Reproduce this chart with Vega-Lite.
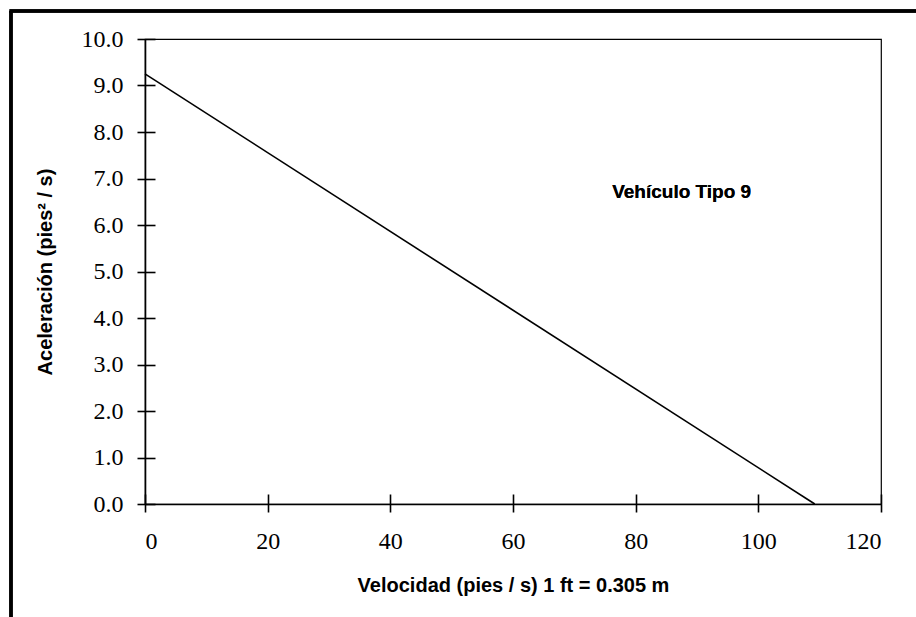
{
  "$schema": "https://vega.github.io/schema/vega-lite/v6.json",
  "autosize": {"type": "none"},
  "width": 736,
  "height": 465,
  "padding": {"left": 145, "top": 39, "right": 35, "bottom": 113},
  "background": "white",
  "config": {
    "view": {"stroke": "black", "strokeWidth": 1.2},
    "axis": {
      "domainColor": "black",
      "domainWidth": 1.6,
      "tickColor": "black",
      "tickWidth": 1.6,
      "grid": false,
      "labelColor": "black",
      "labelFont": "Liberation Serif",
      "labelFontSize": 24,
      "titleColor": "black",
      "titleFont": "Liberation Sans Narrow, Arial Narrow, Liberation Sans",
      "titleFontWeight": "bold"
    }
  },
  "data": {
    "values": [
      {"velocidad": 0, "aceleracion": 9.25},
      {"velocidad": 109.2, "aceleracion": 0}
    ]
  },
  "resolve": {"axis": {"x": "independent", "y": "independent"}},
  "layer": [
    {
      "mark": {"type": "line", "color": "black", "strokeWidth": 1.6},
      "encoding": {
        "x": {
          "field": "velocidad",
          "type": "quantitative",
          "scale": {"domain": [0, 120], "nice": false, "zero": false},
          "axis": {
            "orient": "bottom",
            "values": [0, 20, 40, 60, 80, 100, 120],
            "format": "d",
            "tickSize": 8,
            "labelPadding": 17,
            "title": "Velocidad (pies / s) 1 ft = 0.305 m",
            "titleFontSize": 20,
            "titlePadding": 22
          }
        },
        "y": {
          "field": "aceleracion",
          "type": "quantitative",
          "scale": {"domain": [0, 10], "nice": false, "zero": false},
          "axis": {
            "orient": "left",
            "values": [0, 1, 2, 3, 4, 5, 6, 7, 8, 9, 10],
            "format": ".1f",
            "tickSize": 8,
            "labelPadding": 14,
            "title": "Aceleración (pies² / s)",
            "titleFontSize": 20,
            "titlePadding": 26
          }
        }
      }
    },
    {
      "mark": {"type": "text", "font": "Liberation Sans Narrow, Arial Narrow, Liberation Sans", "fontWeight": "bold", "fontSize": 19, "color": "black", "align": "center", "baseline": "middle"},
      "encoding": {
        "x": {"datum": 87.5, "type": "quantitative", "axis": {"orient": "bottom", "values": [0, 20, 40, 60, 80, 100, 120], "tickSize": -10, "labels": false, "domain": false, "title": null}},
        "y": {"datum": 6.7, "type": "quantitative", "axis": {"orient": "left", "values": [0, 1, 2, 3, 4, 5, 6, 7, 8, 9, 10], "tickSize": -10, "labels": false, "domain": false, "title": null}},
        "text": {"value": "Vehículo Tipo 9"}
      }
    },
    {
      "mark": {"type": "rule", "color": "black", "strokeWidth": 3.5},
      "encoding": {
        "x": {"datum": -21.85, "type": "quantitative", "axis": null},
        "y": {"datum": -2.6, "type": "quantitative", "axis": null},
        "y2": {"datum": 10.6}
      }
    },
    {
      "mark": {"type": "rule", "color": "black", "strokeWidth": 3.5},
      "encoding": {
        "y": {"datum": 10.6, "type": "quantitative", "axis": null},
        "x": {"datum": -22.1, "type": "quantitative", "axis": null},
        "x2": {"datum": 126}
      }
    }
  ]
}
